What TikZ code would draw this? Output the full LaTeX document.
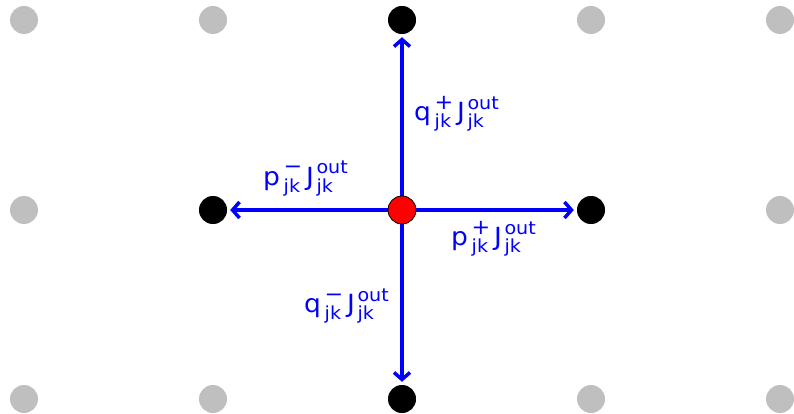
\documentclass[tikz,border=0pt]{standalone}
\usepackage{fontspec}
\setmainfont{DejaVu Sans}
\usetikzlibrary{arrows.meta}
\newcommand\smallfnt{\fontsize{18}{18}\selectfont}
\newcommand\signfnt{\fontsize{21}{21}\selectfont}
\newcommand\supsub[2]{{\smallfnt\setbox0\hbox{#1}\setbox2\hbox{#2}%
  \ifdim\wd0>\wd2 \rlap{\raisebox{-7pt}{#2}}\raisebox{11pt}{#1}%
  \else\rlap{\raisebox{11.5pt}{\hbox to \wd2{\hss#1\hss}}}\raisebox{-7pt}{#2}\fi}}
\newcommand\flowlab[2]{\scalebox{1.06}[1]{#1\kern3.5pt\supsub{\signfnt #2}{jk}\kern3.5pt J\kern2.5pt\supsub{out}{jk}}}
\begin{document}
\begin{tikzpicture}[x=1pt,y=-1pt,
  gdot/.style={circle,fill=black!25,minimum size=28pt,inner sep=0pt},
  bdot/.style={circle,fill=black,minimum size=28pt,inner sep=0pt},
  rdot/.style={circle,fill=red,draw=black,line width=0.8pt,minimum size=28pt,inner sep=0pt},
  flow/.style={blue,line width=3.5pt,-{Straight Barb[length=7pt,width=16pt]},shorten >=3pt},
  lab/.style={blue,font=\fontsize{25}{26}\selectfont,inner sep=0pt,anchor=base west}]
\useasboundingbox (0,0) rectangle (794,414);
\foreach \x/\i in {24/1,213/2,402/3,591/4,780/5}{
  \foreach \y/\j in {20/1,210/2,399/3}{
    \node[gdot] (g\i\j) at (\x,\y) {};
  }
}
\node[bdot] (n) at (402,20) {};
\node[bdot] (s) at (402,399) {};
\node[bdot] (w) at (213,210) {};
\node[bdot] (e) at (591,210) {};
\coordinate (c) at (402,210);
\draw[flow] (c) -- (n);
\draw[flow] (c) -- (s);
\draw[flow] (c) -- (w);
\draw[flow] (c) -- (e);
\node[rdot] (ctr) at (402,210) {};
\node[lab] (lq1) at (414,121) {\flowlab{q}{+}};
\node[lab] (lp1) at (263,185) {\flowlab{p}{−}};
\node[lab] (lp2) at (451,245) {\flowlab{p}{+}};
\node[lab] (lq2) at (304,312) {\flowlab{q}{−}};
\end{tikzpicture}
\end{document}
